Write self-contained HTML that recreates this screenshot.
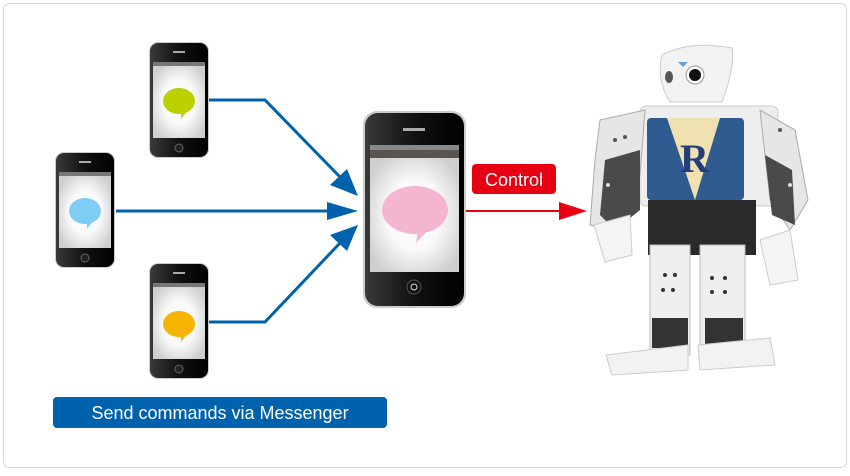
<!DOCTYPE html>
<html><head><style>
body{margin:0;background:#fff;width:850px;height:471px;overflow:hidden;font-family:"Liberation Sans",sans-serif}
</style></head><body>
<svg width="850" height="471" viewBox="0 0 850 471" xmlns="http://www.w3.org/2000/svg">
<defs>
<radialGradient id="scr" cx="50%" cy="50%" r="60%"><stop offset="0.5" stop-color="#fafafa"/><stop offset="1" stop-color="#cfcfcf"/></radialGradient>
<linearGradient id="body" x1="0" x2="1"><stop offset="0" stop-color="#3a3a3a"/><stop offset="0.5" stop-color="#111"/><stop offset="1" stop-color="#000"/></linearGradient>
<g id="ph">
<rect x="0" y="0" width="60" height="116" rx="9" fill="#ccc"/>
<rect x="1" y="1" width="58" height="114" rx="8" fill="url(#body)"/>
<rect x="24" y="9" width="12" height="2" fill="#aaa"/>
<rect x="4" y="20" width="52" height="4" fill="#777"/>
<rect x="4" y="24" width="52" height="72" fill="url(#scr)"/>
<circle cx="30" cy="106" r="4" fill="#222" stroke="#666"/>
</g>
</defs>
<rect x="3.5" y="3.5" width="843" height="464" rx="6" fill="#fff" stroke="#d8d8d8"/>
<use href="#ph" x="149" y="42"/>
<ellipse cx="179" cy="101" rx="16" ry="13" fill="#bcd000"/><path d="M181 112 l0 7 l6 -8z" fill="#bcd000"/>
<use href="#ph" x="55" y="152"/>
<ellipse cx="85" cy="211" rx="16" ry="13" fill="#7fcdf4"/><path d="M87 222 l0 7 l6 -8z" fill="#7fcdf4"/>
<use href="#ph" x="149" y="263"/>
<ellipse cx="179" cy="324" rx="16" ry="13" fill="#f5b400"/><path d="M181 335 l0 7 l6 -8z" fill="#f5b400"/>
<rect x="363" y="111" width="103" height="197" rx="14" fill="#ccc"/>
<rect x="365" y="113" width="99" height="193" rx="13" fill="url(#body)"/>
<rect x="403" y="128" width="22" height="3" fill="#aaa"/>
<rect x="370" y="145" width="89" height="5" fill="#888"/>
<rect x="370" y="150" width="89" height="8" fill="#5a5450"/>
<rect x="370" y="158" width="89" height="114" fill="url(#scr)"/>
<ellipse cx="415" cy="210" rx="33" ry="24" fill="#f4b5d0"/><path d="M418 230 l-2 13 l14 -15z" fill="#f4b5d0"/>
<circle cx="414" cy="287" r="7" fill="#111" stroke="#555"/><circle cx="414" cy="287" r="3" fill="none" stroke="#ddd"/>
<g stroke="#0061ac" stroke-width="3" fill="none">
<path d="M209 100 H265 L340 177"/><path d="M116 211 H335"/><path d="M209 322 H265 L340 243"/>
</g>
<g fill="#0061ac">
<path d="M358 196 L330 185 L347 169Z"/>
<path d="M358 211 L327 202 L327 220Z"/>
<path d="M358 225 L347 251 L330 235Z"/>
</g>
<path d="M466 211 H565" stroke="#e60012" stroke-width="2"/>
<path d="M587 211 L559 202 L559 220Z" fill="#e60012"/>
<rect x="472" y="164" width="84" height="30" rx="4" fill="#e60012"/>
<text x="514" y="186" font-size="18" fill="#fff" text-anchor="middle" font-family="Liberation Sans">Control</text>
<rect x="53" y="397" width="334" height="31" rx="4" fill="#0061ac"/>
<text x="220" y="419" font-size="18" fill="#fff" text-anchor="middle" font-family="Liberation Sans">Send commands via Messenger</text>
<g>
<path d="M662 55 Q690 40 732 48 Q735 68 722 102 L670 102 Q656 80 662 55Z" fill="#f2f2f2" stroke="#ccc"/>
<circle cx="695" cy="75" r="9" fill="#fff" stroke="#999"/><circle cx="695" cy="75" r="6" fill="#111"/>
<ellipse cx="669" cy="77" rx="4" ry="6" fill="#555"/>
<path d="M678 62 l10 0 l-5 5z" fill="#6a9fd0"/>
<rect x="640" y="106" width="138" height="100" rx="6" fill="#eee" stroke="#ccc"/>
<rect x="647" y="118" width="97" height="82" rx="4" fill="#2f5b91"/>
<path d="M667 118 L720 118 L695 200Z" fill="#f0e2b0"/>
<text x="680" y="172" font-size="40" font-weight="bold" fill="#233e7a" font-family="Liberation Serif">R</text>
<path d="M600 120 L645 110 L640 175 L610 230 L590 225 L595 160Z" fill="#e6e6e6" stroke="#aaa"/>
<path d="M605 160 L640 150 L640 210 L615 230 L600 215Z" fill="#4a4a4a"/>
<circle cx="615" cy="140" r="2" fill="#555"/><circle cx="625" cy="137" r="2" fill="#555"/><circle cx="608" cy="185" r="2" fill="#ddd"/>
<path d="M594 225 L630 215 L632 255 L605 262Z" fill="#f4f4f4" stroke="#ccc"/>
<path d="M760 110 L795 130 L808 200 L790 230 L770 200Z" fill="#e6e6e6" stroke="#aaa"/>
<path d="M765 155 L792 170 L795 225 L772 215Z" fill="#4a4a4a"/>
<circle cx="780" cy="130" r="2" fill="#555"/><circle cx="790" cy="185" r="2" fill="#ddd"/>
<path d="M760 240 L790 230 L798 280 L770 285Z" fill="#f4f4f4" stroke="#ccc"/>
<rect x="648" y="200" width="108" height="55" fill="#2a2a2a"/>
<rect x="650" y="245" width="40" height="110" fill="#efefef" stroke="#bbb"/>
<rect x="700" y="245" width="45" height="110" fill="#efefef" stroke="#bbb"/>
<g fill="#333"><circle cx="665" cy="275" r="2"/><circle cx="675" cy="275" r="2"/><circle cx="663" cy="290" r="2"/><circle cx="673" cy="290" r="2"/><circle cx="712" cy="278" r="2"/><circle cx="725" cy="278" r="2"/><circle cx="712" cy="292" r="2"/><circle cx="725" cy="292" r="2"/></g>
<rect x="652" y="318" width="36" height="30" fill="#333"/>
<rect x="705" y="318" width="38" height="30" fill="#333"/>
<path d="M606 355 L688 345 L688 370 L612 375Z" fill="#f2f2f2" stroke="#ccc"/>
<path d="M698 345 L770 338 L775 365 L700 370Z" fill="#f2f2f2" stroke="#ccc"/>
</g>
</svg>
</body></html>
